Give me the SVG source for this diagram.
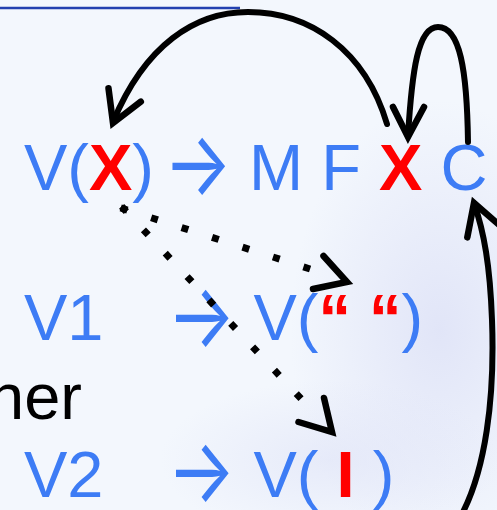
<svg xmlns="http://www.w3.org/2000/svg" width="497" height="510" viewBox="0 0 497 510">
<defs>
<radialGradient id="m1" cx="0.5" cy="0.5" r="0.5">
<stop offset="0" stop-color="#dfe3f7" stop-opacity="0.9"/>
<stop offset="1" stop-color="#dfe3f7" stop-opacity="0"/>
</radialGradient>
<style>
.t{font-family:"Liberation Sans",Arial,sans-serif;font-size:65px;fill:#3d7cf5}
.r{font-weight:bold;fill:#ff0000}
.ar{font-family:Inter,"DejaVu Sans",sans-serif;font-size:90px;font-weight:400;fill:#3d7cf5}
.k{font-family:"Liberation Sans",Arial,sans-serif;font-size:65px;fill:#000}
.c{fill:none;stroke:#000;stroke-width:6;stroke-linecap:round}
.d{fill:none;stroke:#000;stroke-width:7;stroke-dasharray:7 25;stroke-linecap:butt}
.h{fill:none;stroke:#000;stroke-width:6.5;stroke-linecap:round;stroke-linejoin:miter}
</style>
</defs>
<rect width="497" height="510" fill="#f3f7fd"/>
<ellipse cx="440" cy="330" rx="150" ry="230" fill="url(#m1)"/>
<ellipse cx="330" cy="460" rx="170" ry="80" fill="url(#m1)" opacity="0.7"/>
<line x1="0" y1="8" x2="240" y2="8" stroke="#2340b0" stroke-width="2.5"/>

<g id="row1">
<text class="t" y="190"><tspan x="24">V(</tspan><tspan class="r">X</tspan><tspan>)</tspan></text>
<text class="ar" transform="translate(163.5,195) scale(0.8,1)">→</text>
<text class="t" x="249" y="190">M F <tspan class="r">X</tspan> C</text>
</g>
<g id="row2">
<text class="t" x="24" y="340">V1</text>
<text class="ar" transform="translate(167,347) scale(0.8,1)">→</text>
<text class="t" x="253.5" y="340">V(<tspan class="r">“ “</tspan>)</text>
</g>
<g id="row3">
<text class="t" x="24" y="497">V2</text>
<text class="ar" transform="translate(167,502) scale(0.8,1)">→</text>
<text class="t" x="253.5" y="497">V( <tspan class="r">I</tspan> )</text>
</g>
<g id="label">
<text class="k" x="82" y="419" text-anchor="end">ner</text>
</g>

<g id="connectors">
<path class="c" d="M387,124 C365,50 310,12 248,12 C195,12 145,45 113,122"/>
<path class="h" d="M108.5,88.3 L113,123 L140.8,101.7"/>
<path class="c" d="M468,142 C467,70 460,27 438,27 C418,27 412,70 408,136"/>
<path class="h" d="M393,107 L408,137 L424,107"/>
<path class="c" d="M462,514 C485,470 495,400 492,320 C490,265 484,232 474,203"/>
<path class="h" d="M467.3,237.4 L474,203 L500.4,226"/>
<path class="d" d="M120.7,207.9 L320,272.2"/>
<path class="h" d="M323.5,256 L347,282 L313,289"/>
<path class="d" d="M121.6,206.4 L306,404"/>
<path class="h" d="M324,398 L332,432 L298.5,422"/>
</g>
</svg>
